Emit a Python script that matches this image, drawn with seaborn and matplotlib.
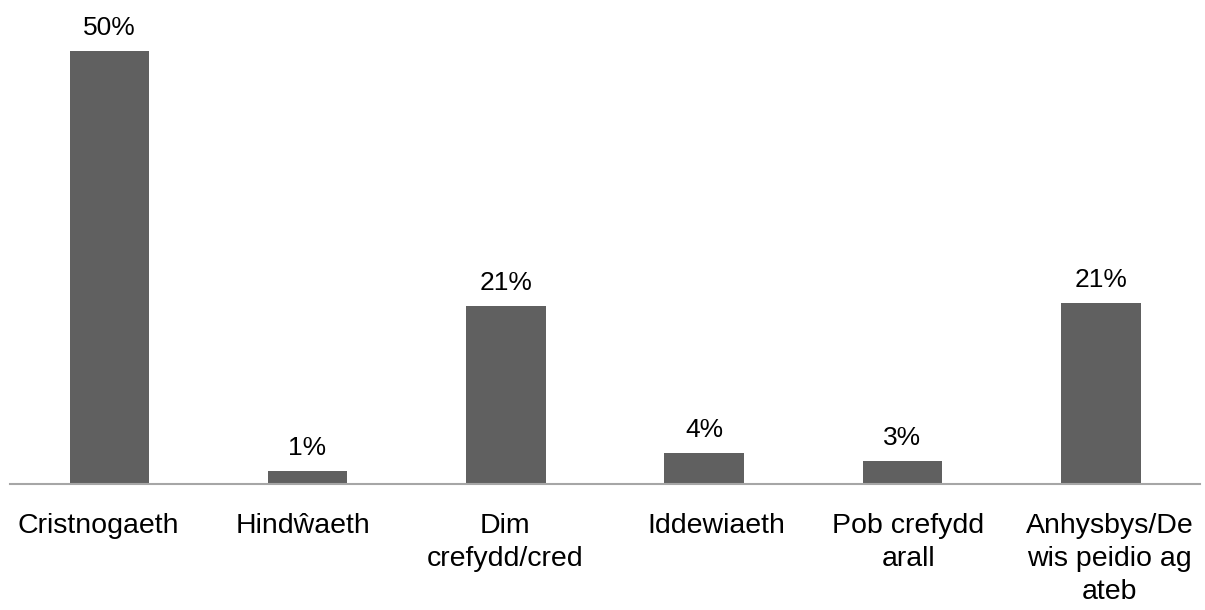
import matplotlib
matplotlib.use("Agg")
import matplotlib.pyplot as plt
import matplotlib.transforms as mtransforms
import seaborn as sns
import pandas as pd

categories = ["Cristnogaeth", "Hindŵaeth", "Dim\ncrefydd/cred", "Iddewiaeth",
              "Pob crefydd\narall", "Anhysbys/De\nwis peidio ag\nateb"]
values = [50.0, 1.4, 20.5, 3.5, 2.6, 20.9]
value_labels = ["50%", "1%", "21%", "4%", "3%", "21%"]

sns.set_theme(style="white")
plt.rcParams['font.family'] = ['Liberation Sans', 'DejaVu Sans']

df = pd.DataFrame({"cat": categories, "val": values})

fig = plt.figure(figsize=(12.05, 6.10), dpi=100)
ax = fig.add_axes([10/1205, 126.5/610, 1190/1205, 473.5/610])
sns.barplot(data=df, x="cat", y="val", color="#606060", saturation=1,
            width=0.4, ax=ax, edgecolor="none")
ax.set_xlim(-0.5, 5.5)
ax.set_ylim(0, 54.75)
ax.set_xlabel("")
ax.set_ylabel("")
ax.set_yticks([])
for s in ["top", "right", "left"]:
    ax.spines[s].set_visible(False)
ax.spines["bottom"].set_color("#a6a6a6")
ax.spines["bottom"].set_linewidth(1.5)
ax.tick_params(axis="x", length=0, pad=21, labelsize=20.5, labelcolor="black")

# small horizontal nudges of the category labels (pixels), as in the original
label_shift_px = [-11, -5, -1, 12, 6, 9]
for t, dx in zip(ax.get_xticklabels(), label_shift_px):
    t.set_multialignment("center")
    t.set_linespacing(1.35)
    t.set_transform(t.get_transform() +
                    mtransforms.ScaledTranslation(dx / 100, 0, fig.dpi_scale_trans))

for p, lab in zip(ax.patches, value_labels):
    ax.annotate(lab, (p.get_x() + p.get_width() / 2, p.get_height()),
                xytext=(0, 8), textcoords="offset points",
                ha="center", va="bottom", fontsize=19, color="black")
fig.savefig("out.png", dpi=100)
